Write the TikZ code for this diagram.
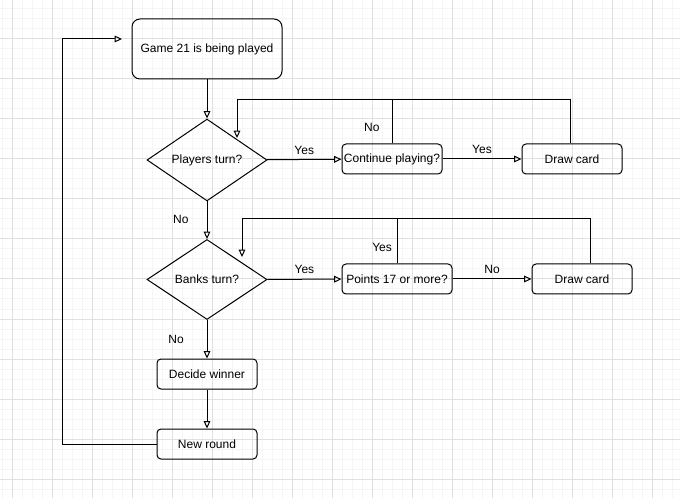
\documentclass[tikz,border=0pt]{standalone}
\usepackage{fontspec}
\setmainfont{Liberation Sans}
\usetikzlibrary{arrows.meta,shapes.geometric}
\tikzset{%
  box/.style={%
    draw, rounded corners=3pt, line width=0.75pt, inner sep=0pt,
    minimum width=75pt, minimum height=22.5pt,
    font=\fontsize{9}{11}\selectfont},
  decision/.style={%
    draw, diamond, line width=0.75pt, inner sep=0pt,
    minimum width=90pt, minimum height=60pt,
    font=\fontsize{9}{11}\selectfont},
  wire/.style={line width=0.75pt},
  flow/.style={wire, -{Triangle[open, length=5.5pt, width=5pt]}},
  lbl/.style={inner sep=0pt, font=\fontsize{9}{11}\selectfont},
  minorgrid/.style={line width=0.75pt, black!4},
  majorgrid/.style={line width=0.75pt, black!12}
}

\begin{document}
\begin{tikzpicture}[x=0.75pt, y=-0.75pt]
    \fill [white] (0,0) rectangle (680,498);
    \useasboundingbox (0,0) rectangle (680,498);
    \foreach \x in {2,12,...,672} \draw [minorgrid] (\x,0) -- (\x,498);
    \foreach \y in {9,19,...,489} \draw [minorgrid] (0,\y) -- (680,\y);
    \foreach \x in {12,52,...,652} \draw [majorgrid] (\x,0) -- (\x,498);
    \foreach \y in {39,79,...,479} \draw [majorgrid] (0,\y) -- (680,\y);

    \node [box, rounded corners=6pt, minimum width=112.5pt, minimum height=45pt]
      (game) at (207,49) {Game 21 is being played};
    \node [decision] (players) at (207,160) {Players turn?};
    \node [box] (cont) at (392,159) {Continue playing?};
    \node [box] (draw1) at (572,159) {Draw card};
    \node [decision] (banks) at (207,279.5) {Banks turn?};
    \node [box, minimum width=82.5pt] (points) at (397,279) {Points 17 or more?};
    \node [box] (draw2) at (582,279) {Draw card};
    \node [box] (decide) at (207,374) {Decide winner};
    \node [box] (newround) at (207,444) {New round};

    \coordinate (loop1) at (392,100);
    \coordinate (p1in) at (237,138);
    \coordinate (loop2) at (397,219);
    \coordinate (b1in) at (242,257);
    \coordinate (back) at (62,39);
    \coordinate (gin) at (122,39);

    \draw [flow] (game) -- (players);
    \draw [flow] (players) -- node [lbl, above=3.5pt] {Yes} (cont);
    \draw [flow] (cont) -- node [lbl, above=3.5pt] {Yes} (draw1);
    \draw [wire] (cont.north) -- node [lbl, pos=0.36, left=9pt] {No} (loop1);
    \draw [flow] ([xshift=-1.5pt]draw1.north) |- (p1in |- loop1) -- (p1in);
    \draw [flow] (players) -- node [lbl, pos=0.47, left=13.5pt] {No} (banks);
    \draw [flow] (banks) -- node [lbl, above=3.5pt] {Yes} (points);
    \draw [flow] (points) -- node [lbl, above=3.5pt] {No} (draw2);
    \draw [wire] (points.north) -- node [lbl, pos=0.36, left=3.5pt] {Yes} (loop2);
    \draw [flow] ([xshift=6pt]draw2.north) |- (b1in |- loop2) -- (b1in);
    \draw [flow] (banks) -- node [lbl, left=17pt] {No} (decide);
    \draw [flow] (decide) -- (newround);
    \draw [flow] (newround.west) -| (back) -- (gin);
\end{tikzpicture}
\end{document}
